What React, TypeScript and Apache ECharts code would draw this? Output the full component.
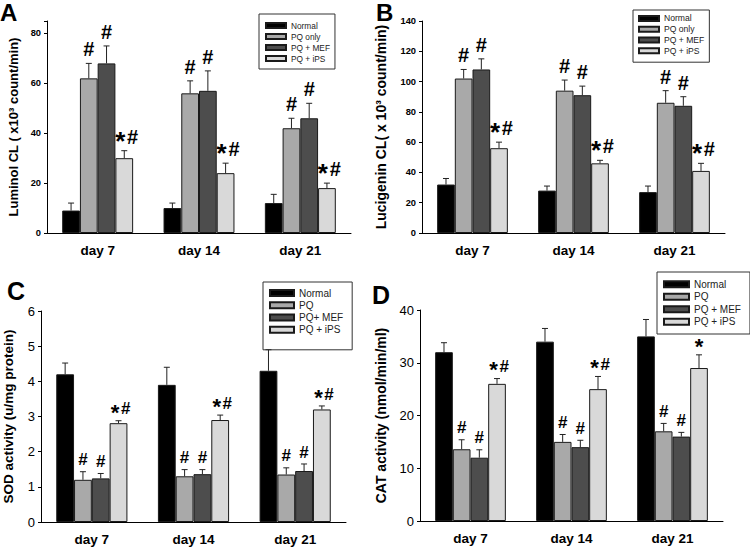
import React, { useEffect, useRef } from "react";
import * as echarts from "echarts";

const days = ["day 7", "day 14", "day 21"];
const colors = ["#000000", "#a9a9a9", "#4d4d4d", "#d9d9d9"];

// Panel A: Luminol CL
const aNames = ["Normal", "PQ only", "PQ + MEF", "PQ + iPS"];
const aNormal = [9, 10, 12];
const aPQ = [62, 56, 42];
const aMEF = [68, 57, 46];
const aIPS = [30, 24, 18];
const aNormalUp = [12, 12, 15.5];
const aPQUp = [68, 61, 46];
const aMEFUp = [75, 65, 52];
const aIPSUp = [33, 28, 20];
const aNormalMark = ["", "", ""];
const aPQMark = ["#", "#", "#"];
const aMEFMark = ["#", "#", "#"];
const aIPSMark = ["*#", "*#", "*#"];

// Panel B: Lucigenin CL
const bNames = ["Normal", "PQ only", "PQ + MEF", "PQ + iPS"];
const bNormal = [32, 28, 27];
const bPQ = [102, 94, 86];
const bMEF = [108, 91, 84];
const bIPS = [56, 46, 41];
const bNormalUp = [36, 31, 31];
const bPQUp = [108, 101, 94];
const bMEFUp = [115, 97, 90];
const bIPSUp = [60, 48, 46];
const bNormalMark = ["", "", ""];
const bPQMark = ["#", "#", "#"];
const bMEFMark = ["#", "#", "#"];
const bIPSMark = ["*#", "*#", "*#"];

// Panel C: SOD activity
const cNames = ["Normal", "PQ", "PQ+ MEF", "PQ + iPS"];
const cNormal = [4.2, 3.9, 4.3];
const cPQ = [1.2, 1.3, 1.35];
const cMEF = [1.24, 1.36, 1.45];
const cIPS = [2.81, 2.9, 3.2];
const cNormalUp = [4.52, 4.4, 4.9];
const cPQUp = [1.43, 1.49, 1.54];
const cMEFUp = [1.38, 1.49, 1.65];
const cIPSUp = [2.88, 3.04, 3.3];
const cNormalMark = ["", "", ""];
const cPQMark = ["#", "#", "#"];
const cMEFMark = ["#", "#", "#"];
const cIPSMark = ["*#", "*#", "*#"];

// Panel D: CAT activity
const dNames = ["Normal", "PQ", "PQ + MEF", "PQ + iPS"];
const dNormal = [32, 34, 35];
const dPQ = [13.6, 15, 17];
const dMEF = [12, 14, 16];
const dIPS = [26, 25, 29];
const dNormalUp = [33.8, 36.5, 38.2];
const dPQUp = [15.4, 16.4, 18.5];
const dMEFUp = [13.5, 15.3, 16.8];
const dIPSUp = [27, 27.4, 31.5];
const dNormalMark = ["", "", ""];
const dPQMark = ["#", "#", "#"];
const dMEFMark = ["#", "#", "#"];
const dIPSMark = ["*#", "*#", "*"];

const FONT = "Liberation Sans, Arial, sans-serif";
const GAP = 0.3;

type Panel = {
  names: string[];
  vals: number[][];
  ups: number[][];
  marks: string[][];
  markSize: number;
  markGap: number;
};

const panels: Panel[] = [
  { names: aNames, vals: [aNormal, aPQ, aMEF, aIPS], ups: [aNormalUp, aPQUp, aMEFUp, aIPSUp], marks: [aNormalMark, aPQMark, aMEFMark, aIPSMark], markSize: 20, markGap: 7 },
  { names: bNames, vals: [bNormal, bPQ, bMEF, bIPS], ups: [bNormalUp, bPQUp, bMEFUp, bIPSUp], marks: [bNormalMark, bPQMark, bMEFMark, bIPSMark], markSize: 20, markGap: 7 },
  { names: cNames, vals: [cNormal, cPQ, cMEF, cIPS], ups: [cNormalUp, cPQUp, cMEFUp, cIPSUp], marks: [cNormalMark, cPQMark, cMEFMark, cIPSMark], markSize: 17, markGap: 6 },
  { names: dNames, vals: [dNormal, dPQ, dMEF, dIPS], ups: [dNormalUp, dPQUp, dMEFUp, dIPSUp], marks: [dNormalMark, dPQMark, dMEFMark, dIPSMark], markSize: 17, markGap: 6 },
];

function markText(text: string, x: number, y: number, size: number) {
  return {
    type: "text",
    x,
    y,
    style: {
      text,
      fontSize: size,
      fontWeight: "bold",
      fontFamily: FONT,
      fill: "#000",
      align: "center",
      verticalAlign: "middle",
    },
  };
}

function buildSeries(p: Panel, gi: number) {
  const out: any[] = [];
  p.vals.forEach((vals, k) => {
    out.push({
      type: "bar",
      name: p.names[k],
      xAxisIndex: gi,
      yAxisIndex: gi,
      data: vals,
      barGap: "0%",
      barCategoryGap: GAP * 100 + "%",
      itemStyle: { color: colors[k], borderColor: "#1a1a1a", borderWidth: 1 },
      emphasis: { disabled: true },
      z: 2,
    });
  });
  p.vals.forEach((vals, k) => {
    const ups = p.ups[k];
    const marks = p.marks[k];
    out.push({
      type: "custom",
      id: "err-" + gi + "-" + k,
      xAxisIndex: gi,
      yAxisIndex: gi,
      z: 3,
      data: vals.map((v, i) => [i, v, ups[i]]),
      encode: { x: 0, y: [1, 2] },
      renderItem: (params: any, api: any) => {
        const i = api.value(0);
        const p0 = api.coord([i, api.value(1)]);
        const p1 = api.coord([i, api.value(2)]);
        const band = api.size([1, 0])[0];
        const bw = (band * (1 - GAP)) / 4;
        const x = p0[0] + (k - 1.5) * bw;
        const st = { stroke: "#222", lineWidth: 1 };
        const children: any[] = [
          { type: "line", shape: { x1: x, y1: p0[1], x2: x, y2: p1[1] }, style: st },
          { type: "line", shape: { x1: x - 3, y1: p1[1], x2: x + 3, y2: p1[1] }, style: st },
        ];
        const m = marks[params.dataIndex];
        if (m) {
          const s = p.markSize;
          const f = s * 1.3;
          const hb = p1[1] - p.markGap; // baseline of "#"
          const hashY = hb - 0.35 * s;
          const starY = hb + 0.3 * s - 0.35 * f;
          if (m === "#") {
            children.push(markText("#", x, hashY, s));
          } else if (m === "*") {
            children.push(markText("*", x, starY, f));
          } else {
            children.push(markText("*", x - 0.2 * s, starY, f));
            children.push(markText("#", x + 0.42 * s, hashY, s));
          }
        }
        return { type: "group", children };
      },
    });
  });
  return out;
}

const grids = [
  { left: 47, top: 21, width: 304, height: 212 },
  { left: 422, top: 21, width: 303, height: 212 },
  { left: 40, top: 311, width: 306, height: 211 },
  { left: 420, top: 310, width: 303, height: 211 },
];

const yDefs = [
  { max: 85, interval: 20, name: "Luminol CL ( x10³ count/min)", nameSize: 13, nameGap: 27, labelSize: 9.3, bold: true },
  { max: 140, interval: 20, name: "Lucigenin CL( x 10³ count/min)", nameSize: 14, nameGap: 34, labelSize: 9.3, bold: true },
  { max: 6, interval: 1, name: "SOD activity (u/mg protein)", nameSize: 13.5, nameGap: 26, labelSize: 13, bold: false },
  { max: 40, interval: 10, name: "CAT activity (nmol/min/ml)", nameSize: 14, nameGap: 32, labelSize: 13, bold: false },
];

const xTickLen = [4, 4, 10, 10];

const legendDefs = [
  { left: 259, top: 14, padding: [6, 5, 5, 6], fontSize: 8.3, lineHeight: 11, itemWidth: 20, itemHeight: 5 },
  { left: 633, top: 10, padding: [3, 5, 6, 5], fontSize: 8.6, lineHeight: 10.8, itemWidth: 20, itemHeight: 5 },
  { left: 263, top: 282, padding: [5, 9, 14, 6], fontSize: 10, lineHeight: 12.2, itemWidth: 24, itemHeight: 6 },
  { left: 657, top: 272, padding: [6, 9, 6, 6], fontSize: 10, lineHeight: 12.5, itemWidth: 25, itemHeight: 6 },
];

const letters = [
  { t: "A", x: 0, y: 0, size: 24 },
  { t: "B", x: 376, y: 0, size: 24 },
  { t: "C", x: 7, y: 278, size: 25 },
  { t: "D", x: 372, y: 282, size: 25 },
];

export default function App() {
  const ref = useRef<HTMLDivElement>(null);
  useEffect(() => {
    if (!ref.current) return;
    const chart = echarts.init(ref.current, undefined, { renderer: "svg" });
    const option: any = {
      animation: false,
      grid: grids,
      xAxis: grids.map((_, gi) => ({
        type: "category",
        gridIndex: gi,
        data: days,
        axisLine: { lineStyle: { color: "#000", width: 1 } },
        axisTick: { alignWithLabel: true, length: xTickLen[gi], lineStyle: { color: "#000" } },
        axisLabel: { fontSize: 13.5, fontWeight: "bold", color: "#000", fontFamily: FONT, margin: 10 },
      })),
      yAxis: yDefs.map((d, gi) => ({
        type: "value",
        gridIndex: gi,
        min: 0,
        max: d.max,
        interval: d.interval,
        splitLine: { show: false },
        axisLine: { show: true, lineStyle: { color: "#000", width: 1 } },
        axisTick: { show: true, length: 3, lineStyle: { color: "#000" } },
        axisLabel: {
          fontSize: d.labelSize,
          fontWeight: d.bold ? "bold" : "normal",
          color: "#000",
          fontFamily: FONT,
          margin: 6,
          formatter: (v: number) => (Math.abs(v / d.interval - Math.round(v / d.interval)) < 1e-6 ? String(v) : ""),
        },
        name: d.name,
        nameLocation: "middle",
        nameGap: d.nameGap,
        nameTextStyle: { fontSize: d.nameSize, fontWeight: "bold", color: "#000", fontFamily: FONT },
      })),
      legend: legendDefs.map((l, gi) => ({
        orient: "vertical",
        left: l.left,
        top: l.top,
        padding: l.padding,
        itemGap: 0,
        itemWidth: l.itemWidth,
        itemHeight: l.itemHeight,
        icon: "rect",
        borderColor: "#333",
        borderWidth: 1,
        selectedMode: false,
        data: panels[gi].names,
        textStyle: { fontSize: l.fontSize, lineHeight: l.lineHeight, color: "#222", fontFamily: FONT, padding: [0, 0, 0, 0] },
      })),
      graphic: letters.map((L) => ({
        type: "text",
        x: L.x,
        y: L.y,
        style: { text: L.t, fontSize: L.size, fontWeight: "bold", fontFamily: FONT, fill: "#000" },
      })),
      series: panels.flatMap((p, gi) => buildSeries(p, gi)),
    };
    chart.setOption(option);
    return () => chart.dispose();
  }, []);
  return (
    <div
      ref={ref}
      style={{ position: "absolute", left: 0, top: 0, width: 750, height: 547, background: "#fff" }}
    />
  );
}
